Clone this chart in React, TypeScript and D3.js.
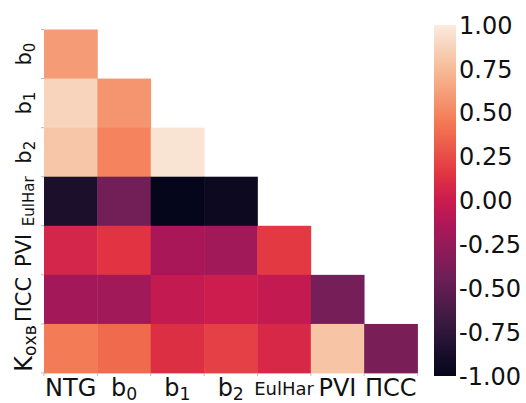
import React from "react"
import * as d3 from "d3"

// lower-triangle correlation matrix
const colLabels = ["NTG", "b0", "b1", "b2", "EulHar", "PVI", "ПСС"]
const rowLabels = ["b0", "b1", "b2", "EulHar", "PVI", "ПСС", "Kохв"]

const rowB0 = [0.6]
const rowB1 = [0.88, 0.57]
const rowB2 = [0.81, 0.49, 0.96]
const rowEulHar = [-0.86, -0.42, -0.99, -0.95]
const rowPVI = [0.06, 0.14, -0.16, -0.2, 0.17]
const rowPSS = [-0.19, -0.2, -0.04, 0.01, -0.04, -0.4]
const rowKohv = [0.45, 0.38, 0.12, 0.2, 0.08, 0.8, -0.38]

const rows = [rowB0, rowB1, rowB2, rowEulHar, rowPVI, rowPSS, rowKohv]
const cbTicks = [1, 0.75, 0.5, 0.25, 0, -0.25, -0.5, -0.75, -1]

// seaborn "rocket" approximated by a few stops
const rocketStops = ["#03051a", "#35193e", "#701f57", "#ad1759", "#cb1b4f", "#e13342", "#f37651", "#f6b48f", "#faebdd"]
const rocketPos = [0, 1 / 7, 2 / 7, 3 / 7, 0.5, 4 / 7, 5 / 7, 6 / 7, 1]

const FONT = "DejaVu Sans"

function Label({ text, x, y, size, rotate }: { text: string; x: number; y: number; size: number; rotate?: boolean }) {
    const m = text.match(/^([A-Za-z])(\d|охв)$/)
    const tr = rotate ? `rotate(-90, ${x}, ${y})` : undefined
    if (!m) {
        return (
            <text x={x} y={y} transform={tr} textAnchor="middle" fontSize={size} fontFamily={FONT} fill="#111">
                {text}
            </text>
        )
    }
    return (
        <text x={x} y={y} transform={tr} textAnchor="middle" fontSize={size} fontFamily={FONT} fill="#111">
            {m[1]}
            <tspan fontSize={size * 0.72} dy={size * 0.18}>{m[2]}</tspan>
        </text>
    )
}

export default function App() {
    const width = 526
    const height = 403
    const left = 44
    const top = 29.5
    const right = 417.5
    const bottom = 373

    const x = d3.scaleBand().domain(colLabels).range([left, right])
    const y = d3.scaleBand().domain(rowLabels).range([top, bottom])

    const color = d3.scaleLinear<string>()
        .domain(rocketPos.map(p => p * 2 - 1))
        .range(rocketStops)
        .interpolate(d3.interpolateRgb)
        .clamp(true)

    const cbX = 434
    const cbW = 22
    const cbY = d3.scaleLinear().domain([1, -1]).range([25, 376])
    const gradStops = d3.range(0, 1.0001, 0.02)

    const cells = rows.flatMap((vals, ri) =>
        vals.map((v, ci) => ({ row: rowLabels[ri], col: colLabels[ci], v }))
    )

    return (
        <svg width={width} height={height} style={{ position: "absolute", left: 0, top: 0, background: "#fff" }}>
            <defs>
                <linearGradient id="cb" x1="0" y1="1" x2="0" y2="0">
                    {gradStops.map(t => (
                        <stop key={t} offset={t} stopColor={color(t * 2 - 1)} />
                    ))}
                </linearGradient>
            </defs>

            {cells.map(c => (
                <rect
                    key={c.row + c.col}
                    x={x(c.col)}
                    y={y(c.row)}
                    width={x.bandwidth() + 0.4}
                    height={y.bandwidth() + 0.4}
                    fill={color(c.v)}
                />
            ))}

            {/* ticks at cell boundaries */}
            {rowLabels.map(r => (
                <line key={"yt" + r} x1={left - 3} x2={left} y1={y(r)} y2={y(r)} stroke="#bbb" />
            ))}
            <line x1={left - 3} x2={left} y1={bottom} y2={bottom} stroke="#bbb" />
            {colLabels.map(c => (
                <line key={"xt" + c} x1={x(c)} x2={x(c)} y1={bottom} y2={bottom + 3} stroke="#bbb" />
            ))}
            <line x1={right} x2={right} y1={bottom} y2={bottom + 3} stroke="#bbb" />

            {colLabels.map(c => (
                <Label
                    key={"xl" + c}
                    text={c}
                    x={(x(c) ?? 0) + x.bandwidth() / 2}
                    y={c === "EulHar" ? 395 : 396}
                    size={c === "EulHar" ? 18 : 24}
                />
            ))}
            {rowLabels.map(r => (
                <Label
                    key={"yl" + r}
                    text={r}
                    x={r === "EulHar" ? 34 : r === "Kохв" ? 32 : 31}
                    y={(y(r) ?? 0) + y.bandwidth() / 2}
                    size={r === "EulHar" ? 15 : r === "Kохв" ? 24 : 21}
                    rotate
                />
            ))}

            <rect x={cbX} y={cbY(1)} width={cbW} height={cbY(-1) - cbY(1)} fill="url(#cb)" />
            {cbTicks.map(t => (
                <text
                    key={"cb" + t}
                    x={cbX + cbW + 3}
                    y={cbY(t)}
                    dy="0.36em"
                    fontSize={24}
                    fontFamily={FONT}
                    fill="#111"
                >
                    {t.toFixed(2)}
                </text>
            ))}
        </svg>
    )
}
